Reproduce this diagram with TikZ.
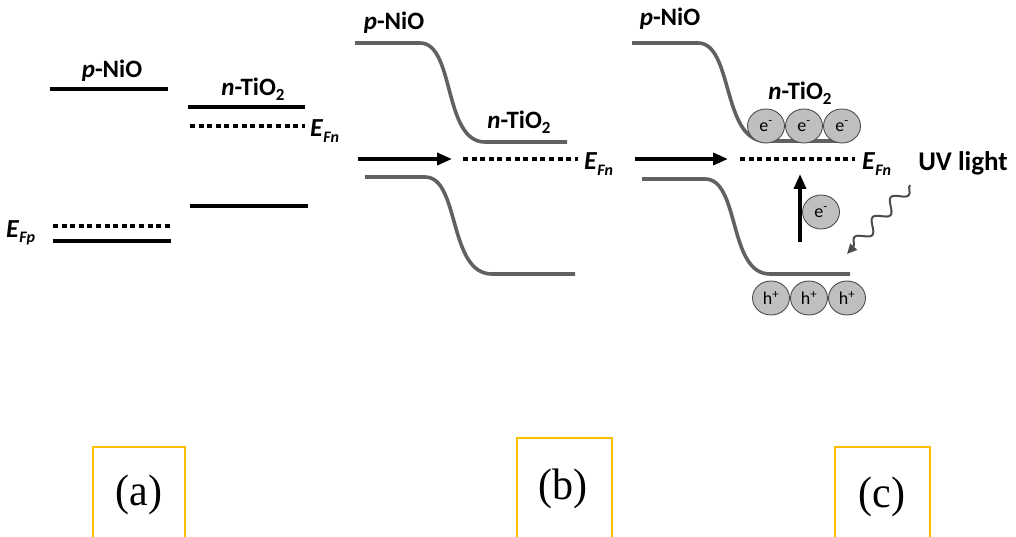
\documentclass[tikz,border=0pt]{standalone}
\usepackage{fontspec}
\setmainfont{Carlito}
\newfontfamily\serifpanel{Liberation Serif}
\usetikzlibrary{arrows.meta,decorations.pathmorphing,shapes.geometric}
\newcommand\myEF[1]{\textbf{\textit{E}}\raisebox{-0.45ex}{\fontsize{16}{16}\selectfont\textbf{\textit{#1}}}}
\newcommand\mysubtwo{\raisebox{-0.4ex}{\fontsize{17}{17}\selectfont 2}}
\begin{document}
\begin{tikzpicture}[x=1pt,y=-1pt,
  lbl/.style={font=\fontsize{25}{25}\selectfont\bfseries, inner sep=0pt},
  eflbl/.style={font=\fontsize{26}{26}\selectfont, inner sep=0pt, anchor=west},
  level/.style={line width=4pt},
  fermi/.style={line width=3.4pt, dash pattern=on 5pt off 3.6pt},
  band/.style={line width=3.6pt, draw=black!62},
  flow/.style={line width=3.5pt, -{Triangle[length=15pt,width=12pt]}},
  carrier/.style={ellipse, draw=black!70, line width=0.9pt, fill=black!25, minimum width=37pt, minimum height=34pt, inner sep=0pt, font=\fontsize{18}{18}\selectfont},
  panelbox/.style={draw={rgb,255:red,255;green,192;blue,0}, line width=2pt},
  panellbl/.style={font=\serifpanel\fontsize{42}{42}\selectfont, inner sep=0pt, yscale=1.05}]
\useasboundingbox (0,0) rectangle (1016,537);

% ---------- panel (a)
\node[lbl] (ap) at (112,71) {\textit{p}-NiO};
\coordinate (ap1) at (50,89); \coordinate (ap2) at (168,89);
\draw[level] (ap1) -- (ap2);
\node[lbl] (an) at (253,89) {\textit{n}-TiO\mysubtwo};
\coordinate (an1) at (188,107); \coordinate (an2) at (305,107);
\draw[level] (an1) -- (an2);
\coordinate (af1) at (190,126); \coordinate (af2) at (305,126);
\draw[fermi] (af1) -- (af2);
\node[eflbl] (aefn) at (310,131) {\myEF{Fn}};
\coordinate (av1) at (190,206); \coordinate (av2) at (308,206);
\draw[level] (av1) -- (av2);
\coordinate (afp1) at (53,226); \coordinate (afp2) at (171,226);
\draw[fermi] (afp1) -- (afp2);
\node[eflbl] (aefp) at (6,233) {\myEF{Fp}};
\coordinate (apv1) at (53,241); \coordinate (apv2) at (171,241);
\draw[level] (apv1) -- (apv2);

% ---------- panel (b)
\node[lbl] (bp) at (394,23) {\textit{p}-NiO};
\coordinate (bc1) at (355,43); \coordinate (bc2) at (567,142);
\draw[band] (bc1) -- (420,43) .. controls (455,43) and (443,142) .. (485,142) -- (bc2);
\node[lbl] (bn) at (519,122) {\textit{n}-TiO\mysubtwo};
\coordinate (bv1) at (365,177); \coordinate (bv2) at (575,274);
\draw[band] (bv1) -- (425,177) .. controls (460,177) and (448,274) .. (492,274) -- (bv2);
\coordinate (ba1) at (358,159); \coordinate (ba2) at (452,159);
\draw[flow] (ba1) -- (ba2);
\coordinate (bf1) at (463,159); \coordinate (bf2) at (578,159);
\draw[fermi] (bf1) -- (bf2);
\node[eflbl] (befn) at (584,164) {\myEF{Fn}};

% ---------- panel (c)
\node[lbl] (cp) at (670,19) {\textit{p}-NiO};
\coordinate (cc1) at (632,43); \coordinate (cc2) at (842,141);
\draw[band] (cc1) -- (698,43) .. controls (733,43) and (722,141) .. (765,141) -- (cc2);
\node[lbl] (cn) at (800,93) {\textit{n}-TiO\mysubtwo};
\node[carrier] (e1) at (766,126) {e\textsuperscript{-}};
\node[carrier] (e2) at (804,126) {e\textsuperscript{-}};
\node[carrier] (e3) at (842,126) {e\textsuperscript{-}};
\coordinate (cv1) at (642,179); \coordinate (cv2) at (850,274);
\draw[band] (cv1) -- (705,179) .. controls (740,179) and (728,274) .. (770,274) -- (cv2);
\node[carrier] (h1) at (771,298) {h\textsuperscript{+}};
\node[carrier] (h2) at (809,298) {h\textsuperscript{+}};
\node[carrier] (h3) at (847,298) {h\textsuperscript{+}};
\coordinate (ca1) at (635,159); \coordinate (ca2) at (728,159);
\draw[flow] (ca1) -- (ca2);
\coordinate (cf1) at (740,159); \coordinate (cf2) at (855,159);
\draw[fermi] (cf1) -- (cf2);
\node[eflbl] (cefn) at (862,164) {\myEF{Fn}};
\coordinate (cu1) at (800,242); \coordinate (cu2) at (800,174);
\draw[flow] (cu1) -- (cu2);
\node[carrier] (em) at (821,212) {e\textsuperscript{-}};
\node[font=\fontsize{27}{27}\selectfont\bfseries, inner sep=0pt] (uv) at (963,163) {UV light};
\coordinate (w1) at (910,185); \coordinate (w2) at (847,254);
\draw[draw=black!70, line width=2pt, decorate, decoration={snake, segment length=27pt, amplitude=6pt, post length=9pt}, -{Triangle[length=10pt,width=9pt]}] (w1) -- (w2);

% ---------- panel labels
\draw[panelbox] (93,540) -- (93,447) -- (185,447) -- (185,540);
\node[panellbl] (la) at (139,495) {(a)};
\draw[panelbox] (517,540) -- (517,438) -- (612,438) -- (612,540);
\node[panellbl] (lb) at (563,489) {(b)};
\draw[panelbox] (835,540) -- (835,447) -- (930,447) -- (930,540);
\node[panellbl] (lc) at (882,497) {(c)};
\end{tikzpicture}
\end{document}
